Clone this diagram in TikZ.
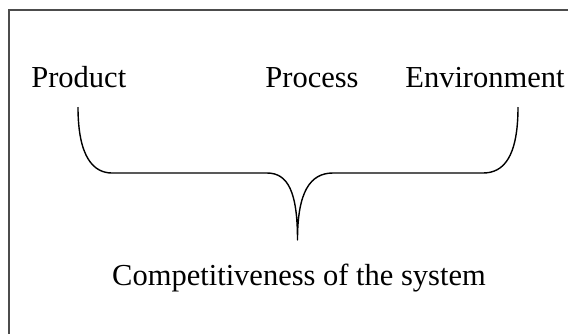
\documentclass[tikz,border=0pt]{standalone}
\usepackage{fontspec}
\setmainfont{Liberation Serif}
\begin{document}
\begin{tikzpicture}[x=1pt,y=-1pt,
  label/.style={font=\fontsize{30.5}{36}\selectfont, anchor=base, inner sep=0pt},
  frame/.style={draw=black!70, line width=2pt},
  brace/.style={draw=black, line width=1.4pt, line join=round}]
  \useasboundingbox (0,0) rectangle (568,333);
  % outer frame, running past the right and bottom edges
  \draw[frame] (9,10) rectangle (600,360);
  % labels
  \node[label] (product) at (78.8,87) {Product};
  \node[label] (process) at (312,87) {Process};
  \node[label] (environment) at (485,87) {Environment};
  \node[label] (system) at (299,285) {Competitiveness of the system};
  % brace ends and tip
  \coordinate (bl) at (78,107);
  \coordinate (br) at (518,107);
  \coordinate (tip) at (297.5,240);
  \path[brace] (bl) .. controls (78,158) and (94,173) .. (112,173)
    -- (267,173) .. controls (288,173) and (297.5,192) .. (tip)
    .. controls (297.5,192) and (310,173) .. (333,173)
    -- (483,173) .. controls (503,173) and (518,158) .. (br);
\end{tikzpicture}
\end{document}
